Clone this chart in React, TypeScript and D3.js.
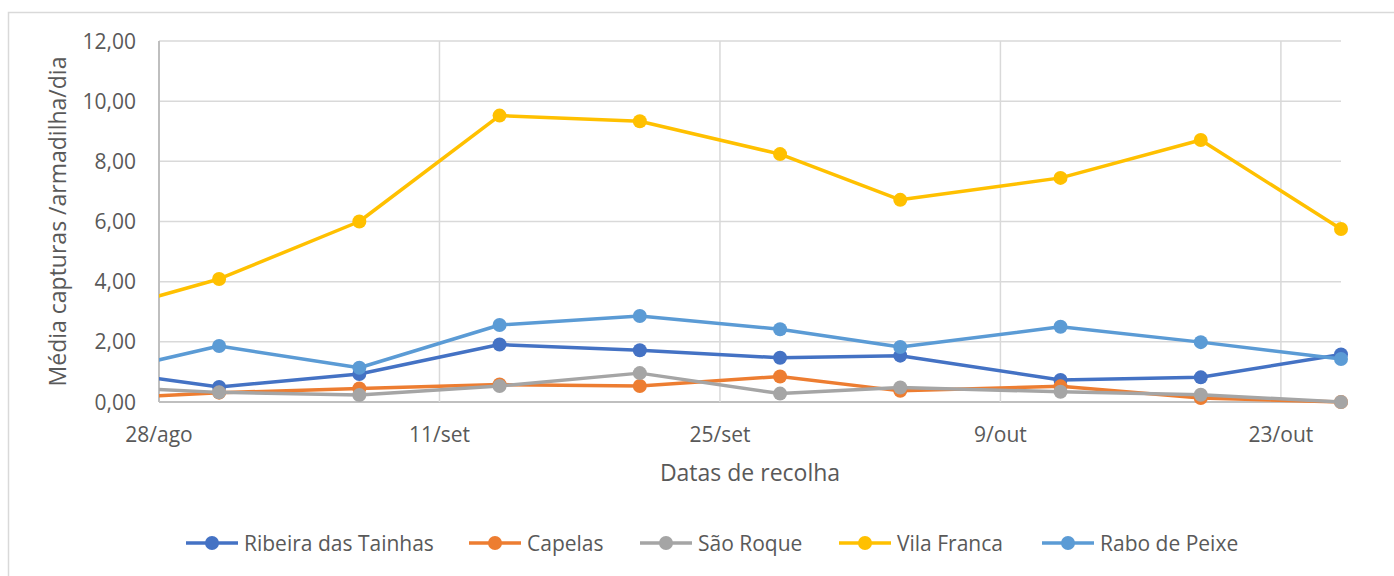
import React from "react";
import * as d3 from "d3";

const dates = ["2019-08-24", "2019-08-31", "2019-09-07", "2019-09-14", "2019-09-21", "2019-09-28", "2019-10-04", "2019-10-12", "2019-10-19", "2019-10-26"];
const ribeira = [1.13, 0.5, 0.93, 1.91, 1.72, 1.47, 1.54, 0.73, 0.82, 1.58];
const capelas = [0.08, 0.31, 0.45, 0.58, 0.53, 0.85, 0.37, 0.52, 0.13, 0.0];
const saoRoque = [0.55, 0.32, 0.23, 0.53, 0.96, 0.28, 0.48, 0.34, 0.24, 0.0];
const vilaFranca = [2.78, 4.09, 6.0, 9.52, 9.33, 8.24, 6.72, 7.45, 8.71, 5.75];
const raboPeixe = [0.79, 1.86, 1.14, 2.56, 2.86, 2.42, 1.83, 2.5, 1.99, 1.43];

const seriesNames = ["Ribeira das Tainhas", "Capelas", "São Roque", "Vila Franca", "Rabo de Peixe"];
const seriesColors = ["#4472C4", "#ED7D31", "#A5A5A5", "#FFC000", "#5B9BD5"];
const seriesValues = [ribeira, capelas, saoRoque, vilaFranca, raboPeixe];

const axisMin = "2019-08-28";
const axisMax = "2019-10-26";
const xTickDates = ["2019-08-28", "2019-09-11", "2019-09-25", "2019-10-09", "2019-10-23"];
const monthAbbr = ["jan", "fev", "mar", "abr", "mai", "jun", "jul", "ago", "set", "out", "nov", "dez"];
const yTicks = [0, 2, 4, 6, 8, 10, 12];

const legendX = [186, 469, 640, 839, 1042];

const FONT = "'Open Sans', sans-serif";
const TEXT = "#595959";

export default function App() {
  const W = 1394, H = 576;
  const L = 159, R = 1341, T = 41, B = 402;
  const parse = (s: string) => new Date(s + "T00:00:00Z");
  const x = d3.scaleUtc().domain([parse(axisMin), parse(axisMax)]).range([L, R]);
  const y = d3.scaleLinear().domain([0, 12]).range([B, T]);
  const line = d3
    .line<number>()
    .x((_, i) => x(parse(dates[i])))
    .y((v) => y(v));
  const fmtY = (v: number) => v.toFixed(2).replace(".", ",");
  const fmtX = (s: string) => {
    const d = parse(s);
    return `${d.getUTCDate()}/${monthAbbr[d.getUTCMonth()]}`;
  };

  return (
    <svg
      width={W}
      height={H}
      style={{ position: "absolute", left: 0, top: 0, background: "#fff" }}
      fontFamily={FONT}
    >
      <defs>
        <clipPath id="plotclip">
          <rect x={L} y={0} width={W - L} height={H} />
        </clipPath>
      </defs>
      <rect x={8.5} y={12.5} width={W + 20} height={H + 20} fill="#fff" stroke="#D9D9D9" strokeWidth={1.5} />

      {/* horizontal gridlines */}
      {yTicks.map((t) => (
        <line key={"hg" + t} x1={L} x2={R} y1={y(t)} y2={y(t)} stroke={t === 0 ? "#BFBFBF" : "#D9D9D9"} strokeWidth={t === 0 ? 2 : 1.5} />
      ))}
      {/* vertical gridlines */}
      {xTickDates.map((s, i) => (
        <line key={"vg" + s} x1={x(parse(s))} x2={x(parse(s))} y1={T} y2={B} stroke={i === 0 ? "#BFBFBF" : "#D9D9D9"} strokeWidth={i === 0 ? 2 : 1.5} />
      ))}

      {/* y tick labels */}
      {yTicks.map((t) => (
        <text key={"yl" + t} x={136} y={y(t) + 7.5} textAnchor="end" fontSize={21} fill={TEXT}>
          {fmtY(t)}
        </text>
      ))}
      {/* x tick labels */}
      {xTickDates.map((s) => (
        <text key={"xl" + s} x={x(parse(s))} y={442} textAnchor="middle" fontSize={21} fill={TEXT}>
          {fmtX(s)}
        </text>
      ))}

      {/* axis titles */}
      <text x={(L + R) / 2} y={481} textAnchor="middle" fontSize={23} fill={TEXT}>
        Datas de recolha
      </text>
      <text transform={`translate(66,${(T + B) / 2}) rotate(-90)`} textAnchor="middle" fontSize={23} fill={TEXT}>
        Média capturas /armadilha/dia
      </text>

      {/* series */}
      <g clipPath="url(#plotclip)">
        {seriesValues.map((vals, si) => (
          <g key={"s" + si}>
            <path d={line(vals) || ""} fill="none" stroke={seriesColors[si]} strokeWidth={3.5} strokeLinejoin="round" />
            {vals.map((v, i) => (
              <circle key={i} cx={x(parse(dates[i]))} cy={y(v)} r={7} fill={seriesColors[si]} />
            ))}
          </g>
        ))}
      </g>

      {/* legend */}
      {seriesNames.map((n, i) => (
        <g key={"lg" + n} transform={`translate(${legendX[i]},543)`}>
          <line x1={0} x2={52} y1={0} y2={0} stroke={seriesColors[i]} strokeWidth={3.5} />
          <circle cx={26} cy={0} r={7} fill={seriesColors[i]} />
          <text x={58} y={8} fontSize={21} fill={TEXT}>
            {n}
          </text>
        </g>
      ))}
    </svg>
  );
}
